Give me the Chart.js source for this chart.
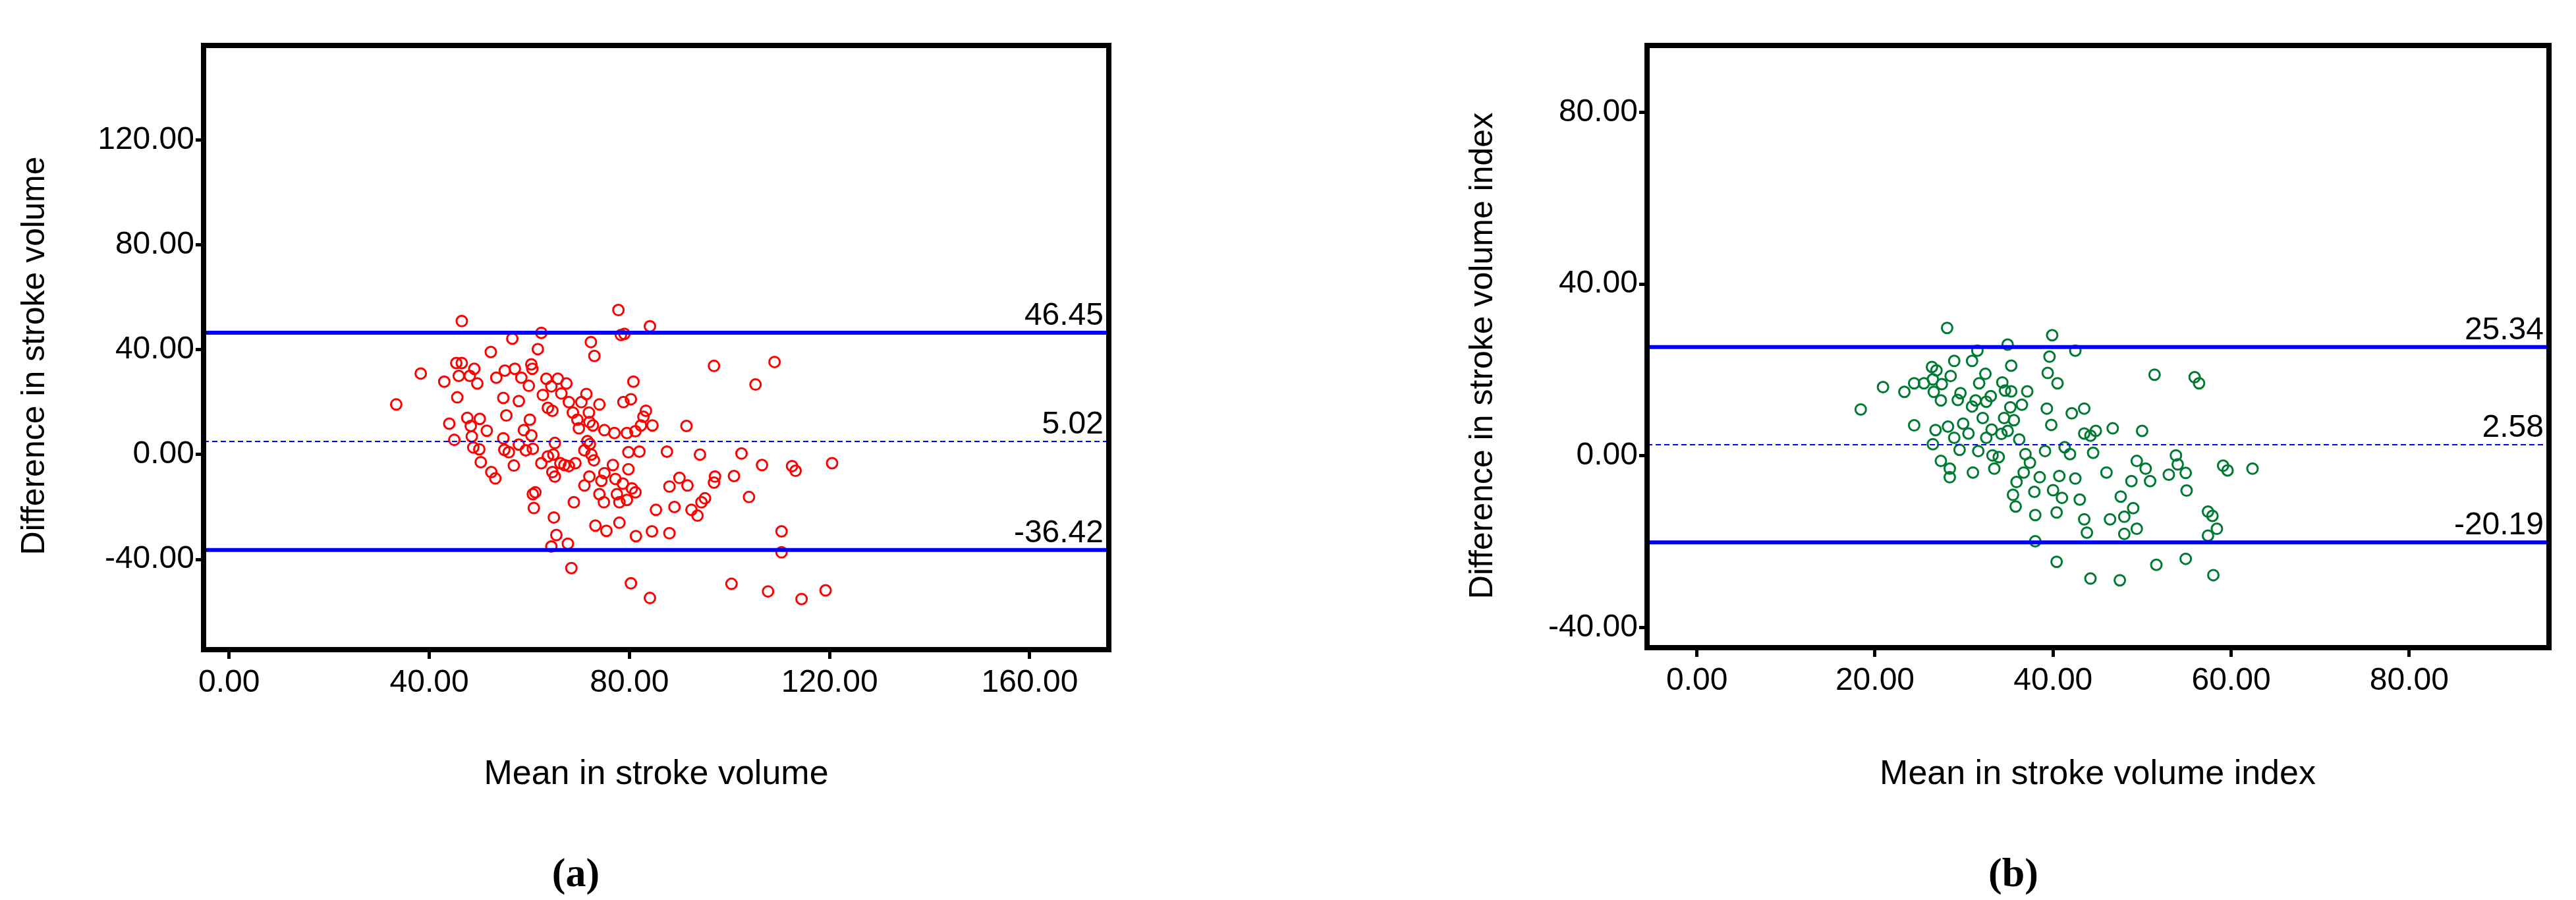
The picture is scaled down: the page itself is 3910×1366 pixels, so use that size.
<!DOCTYPE html>
<html><head><meta charset="utf-8">
<script src="https://cdn.jsdelivr.net/npm/chart.js@4"></script>
<style>body{margin:0;background:#fff;width:3910px;height:1366px;position:relative;overflow:hidden}
.p{position:absolute;top:0;width:1955px;height:1366px}</style></head><body>
<div class="p" style="left:0"><canvas id="ca"></canvas></div>
<div class="p" style="left:1955px"><canvas id="cb"></canvas></div>
<script>
const xTicksA=[0,40,80,120,160], yTicksA=[-40,0,40,80,120];
const xTicksB=[0,20,40,60,80], yTicksB=[-40,0,40,80];
const limitsA=[46.45,5.02,-36.42], limitsB=[25.34,2.58,-20.19];
const labelsA={x:'Mean in stroke volume',y:'Difference in stroke volume',panel:'(a)'};
const labelsB={x:'Mean in stroke volume index',y:'Difference in stroke volume index',panel:'(b)'};
const pointsA=[[33.4,19.1],[38.3,30.9],[43,27.8],[46.5,50.9],[44,11.8],[45,5.6],[45.4,34.9],[45.9,30],[45.6,21.8],[46.5,34.9],[48.1,30],[49,32.7],[49.6,27.1],
[47.6,14],[48.3,10.9],[48.5,6.9],[48.8,2.7],[50.1,13.6],[50,2],[50.3,-2.9],[51.5,9.1],[52.3,39.1],[52.4,-6.7],[53.2,-9.1],
[53.4,29.3],[54.8,21.6],[55.1,32],[55.4,14.9],[56.6,44.2],[57.1,32.7],[57.9,20.4],[58.4,29.3],
[54.8,6.2],[55,1.8],[55.9,0.9],[56.9,-4.2],[57.9,3.8],[58.9,9.3],[59.3,1.6],[60.1,13.3],[60.4,7.3],[60.7,2.2],
[59.9,26.2],[60.4,34.4],[60.6,32.7],[61.7,40.2],[62.4,46.4],[62.7,22.7],[63.4,28.9],[63.7,17.8],[64.4,26],[64.6,16.7],
[60.7,-15.1],[61.2,-14.4],[60.9,-20.4],[62.4,-3.3],[63.7,-0.7],[64.6,-6.7],[65.1,-8.4],[64.9,-24],[65.4,-30.7],[64.4,-35.1],[67.7,-34],[68.4,-43.3],
[65.7,28.9],[66.4,23.3],[67.4,27.1],[67.9,20],[68.7,16],[69.6,13.3],[69.9,10],[70.4,20],[71.4,23.1],[71.9,16],[72,12.4],[72.7,11.1],
[65.1,4.4],[64.8,0],[66.2,-3.3],[67,-4],[67.9,-4.4],[69.2,-3.3],[71,1.6],[71.6,5.1],[72.1,4],[72.4,0],
[68.9,-18.2],[71,-11.8],[72,-8.4],[72.9,-2.2],[73.2,-27.1],[74,-15.1],[74.9,-18.2],[75.4,-29.1],[74.4,-10],[75,-7.1],
[72.3,42.9],[73,37.6],[74,19.1],[75,9.3],[77,8.2],[77.8,55.1],[78.3,45.6],[79,46],[78.8,20],[79.5,8.2],[79.8,0.9],
[80.3,21.1],[80.8,27.8],[81.2,8.9],[82.3,11.1],[82.8,14.4],[83.3,16.7],[84.1,48.9],[84.6,11.1],[85.3,-21.1],[84.5,-29.3],[81.3,-31.1],[80.3,-49.1],[84.1,-54.7],
[76.7,-4],[77.2,-9.3],[77.5,-15.1],[78,-18.2],[78,-26],[78.7,-11.1],[79.5,-17.3],[79.8,-5.6],[80.5,-12.9],[81.2,-14.4],[82,1.1],
[87.5,1.1],[88,-12.2],[88,-30],[89,-20],[90,-8.9],[91.6,-11.8],[92.4,-21.1],[93.6,-23.3],[94.1,0],[94.4,-18.2],[95.1,-16.7],
[91.4,10.9],[96.9,33.8],[97.1,-8.4],[96.9,-10.7],[100.9,-8.2],[102.4,0.4],[103.9,-16.2],[105.2,26.7],[106.5,-4],[109,35.3],[110.4,-29.3],[110.4,-37.3],[112.5,-4.4],[113.2,-6.2],[120.5,-3.3],[100.4,-49.3],[107.7,-52.2],[114.4,-55.1],[119.2,-51.8]];
const pointsB=[[18.4,10.8],[20.9,16],[23.3,14.9],[24.4,16.9],[24.4,7.1],[25.5,16.9],
[26.4,20.7],[26.9,19.9],[26.5,17.8],[26.6,14.9],[27.5,16.7],[27.4,12.9],[28.1,29.8],[28.5,18.6],[28.9,22.1],[29.3,13],[29.6,14.6],[30.9,22.1],[31.5,24.5],[31.7,16.9],[31.3,12.9],[30.9,11.5],[32.4,19.1],[32.5,12.6],[33,13.9],[34.3,17.1],[34.6,15.2],[34.9,25.9],[35.3,21],[35.3,15],[36.5,11.9],[37.1,15],
[26.8,6],[26.5,2.7],[27.4,-1.2],[28.2,6.8],[28.4,-3],[28.4,-5],[28.9,4.2],[29.5,1.4],[29.9,7.5],[30.5,5.2],[31,-3.9],[31.6,1.1],[32.1,8.8],[32.5,4.2],[33.1,6.1],[33.2,0.1],[33.4,-3],[33.9,-0.3],[34.2,5.1],[34.5,8.8],[34.9,5.8],[35.2,11.3],[35.6,8.3],[36.2,3.8],
[35.5,-9.1],[35.9,-6.1],[35.8,-11.8],[36.7,-3.9],[36.9,0.4],[37.4,-1.6],[37.9,-8.4],[38,-13.8],[38,-19.9],[38.5,-5],[39.1,1.1],[39.4,19.3],[39.6,23.1],[39.9,28.1],[39.3,11],[39.8,7.2],[40,-8],[40.5,16.9],[40.4,-13.2],[40.7,-4.7],[41,-9.8],[40.4,-24.7],[41.3,2],[41.9,0.4],[42.1,9.9],[42.5,-5.3],[42.5,24.5],[43,-10.2],[43.5,11],[43.5,5.2],[43.8,-17.9],[44.2,4.7],[44.5,0.7],[44.8,5.8],[43.5,-14.8],
[44.2,-28.6],[46,-3.9],[46.4,-14.8],[46.7,6.4],[47.6,-9.5],[47.5,-29],[48,-14.2],[48,-18.2],[48.8,-5.9],[49,-12.2],[49.4,-1.2],[49.4,-17],[50,5.8],[50.4,-3],[50.9,-5.9],[51.4,18.9],[51.6,-25.4],[53,-4.4],[53.8,0.1],[54,-2],[54.9,-4],[55,-8.1],[54.9,-24],[55.9,18.3],[56.4,16.9],[57.4,-13],[57.9,-14],[57.4,-18.6],[58,-27.8],[58.4,-17],[59.1,-2.3],[59.6,-3.4],[62.4,-3]];

const NARROW='"Liberation Sans Narrow","Arial Narrow","Liberation Sans",sans-serif';
function make(id,pts,color,xr,yr,xt,yt,lims,lab,geo){
  const ds=[{type:'scatter',data:pts.map(p=>({x:p[0],y:p[1]})),pointStyle:'circle',pointRadius:8,borderWidth:3,borderColor:color,backgroundColor:'rgba(0,0,0,0)',order:2}];
  lims.forEach((v,i)=>ds.push({type:'line',data:[{x:xr[0],y:v},{x:xr[1],y:v}],borderColor:'#0000ff',borderWidth:i==1?2:6,borderDash:i==1?[8,5]:[],pointRadius:0,order:1}));
  const deco={id:'deco',afterDraw(c){
    const ctx=c.ctx,a=c.chartArea,ys=c.scales.y;
    ctx.save();ctx.strokeStyle='#000';ctx.lineWidth=8;ctx.strokeRect(a.left,a.top,a.right-a.left,a.bottom-a.top);
    ctx.fillStyle='#000';ctx.font='48px '+NARROW;ctx.textAlign='right';ctx.textBaseline='alphabetic';
    lims.forEach(v=>ctx.fillText(v.toFixed(2),a.right-8,ys.getPixelForValue(v)-12));
    ctx.font='52px '+NARROW;ctx.textAlign='center';ctx.fillText(lab.x,geo.xt[0],geo.xt[1]);
    ctx.font='bold 62px "Liberation Serif",serif';ctx.fillText(lab.panel,geo.pn[0],geo.pn[1]);
    ctx.translate(geo.yt[0],geo.yt[1]);ctx.rotate(-Math.PI/2);ctx.font='50px "Liberation Sans",Arial,sans-serif';ctx.textBaseline='middle';ctx.fillText(lab.y,0,0);
    ctx.restore();}};
  new Chart(document.getElementById(id),{data:{datasets:ds},plugins:[deco],options:{responsive:true,maintainAspectRatio:false,animation:false,
    plugins:{legend:{display:false},tooltip:{enabled:false}},
    layout:{padding:{top:geo.top,right:geo.right,left:0,bottom:0}},
    scales:{
      x:{type:'linear',min:xr[0],max:xr[1],afterBuildTicks:s=>{s.ticks=xt.map(v=>({value:v}))},afterFit:s=>{s.height=geo.xh},
        grid:{drawOnChartArea:false,drawTicks:true,tickLength:14,color:'#000',lineWidth:5},border:{display:false},
        ticks:{color:'#000',font:{size:48,family:NARROW},padding:8,callback:v=>v.toFixed(2),maxRotation:0}},
      y:{type:'linear',min:yr[0],max:yr[1],afterBuildTicks:s=>{s.ticks=yt.map(v=>({value:v}))},afterFit:s=>{s.width=geo.yw},
        grid:{drawOnChartArea:false,drawTicks:true,tickLength:12,color:'#000',lineWidth:5},border:{display:false},
        ticks:{color:'#000',font:{size:48,family:NARROW},padding:2,callback:v=>v.toFixed(2)}}}}});
}
make('ca',pointsA,'#ff0000',[-5.1,175.8],[-74.4,156],xTicksA,yTicksA,limitsA,labelsA,
  {top:69,right:272,xh:380,yw:309,xt:[996,1190],pn:[874,1345],yt:[53,540]});
make('cb',pointsB,'#007a33',[-5.6,95.7],[-44.7,95.6],xTicksB,yTicksB,limitsB,labelsB,
  {top:69,right:41,xh:383,yw:545,xt:[1229,1190],pn:[1101,1345],yt:[296,540]});
</script></body></html>
